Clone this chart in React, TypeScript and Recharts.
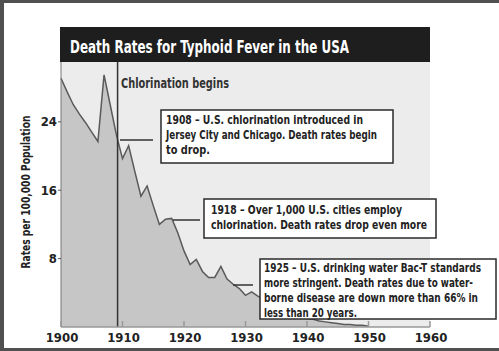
import React from 'react';
import { AreaChart, Area, XAxis, YAxis, CartesianGrid, ReferenceLine } from 'recharts';

const years = [
  1900, 1901, 1902, 1903, 1904, 1905, 1906, 1907, 1908, 1909,
  1910, 1911, 1912, 1913, 1914, 1915, 1916, 1917, 1918, 1919,
  1920, 1921, 1922, 1923, 1924, 1925, 1926, 1927, 1928, 1929,
  1930, 1931, 1932, 1933, 1934, 1935, 1936, 1937, 1938, 1939,
  1940, 1941, 1942, 1943, 1944, 1945, 1946, 1947, 1948, 1949, 1950,
];
const rates = [
  29.1, 27.5, 26.0, 24.9, 23.9, 22.8, 21.7, 29.5, 26.0, 22.5,
  19.7, 21.2, 18.2, 15.3, 16.5, 14.2, 12.0, 12.6, 12.7, 11.0,
  8.9, 7.3, 7.9, 6.5, 5.8, 5.8, 7.1, 5.6, 5.0, 4.5,
  3.7, 4.1, 3.6, 3.2, 3.0, 2.6, 2.2, 1.9, 1.5, 1.2,
  1.0, 0.9, 0.7, 0.6, 0.5, 0.4, 0.3, 0.3, 0.2, 0.2, 0.1,
];
const xTicks = [1900, 1910, 1920, 1930, 1940, 1950, 1960];
const yTicks = [8, 16, 24];
const chlorinationYear = 1909.2;

const data = years.map((year, i) => ({ year, rate: rates[i] }));

const FONT = "'Liberation Sans Narrow', 'Arial Narrow', 'DejaVu Sans Condensed', sans-serif";
const SQUEEZE = 0.8; // horizontal squeeze for the condensed note text

// x tick: small mark pointing up into the plot, label below
function YearTick(props: any) {
  const { x, y, payload } = props;
  return (
    <g>
      <line x1={x} y1={y} x2={x} y2={y - 6} stroke="#999" strokeWidth={1.5} />
      <text x={x + 1} y={y + 15} textAnchor="middle" fontFamily={FONT} fontWeight={700} fontSize={13} fill="#222">
        {payload.value}
      </text>
    </g>
  );
}

type Line = { text: string; w: number };

function NoteBox({ x, y, w, h, lines, tx, ty }: { x: number; y: number; w: number; h: number; lines: Line[]; tx: number; ty: number }) {
  return (
    <g>
      <rect x={x} y={y} width={w} height={h} fill="#fff" stroke="#2a2a2a" strokeWidth={1.5} />
      {lines.map((l, i) => (
        <text key={i} transform={`translate(${tx},${ty + i * 15}) scale(${SQUEEZE},1)`}
          fontFamily={FONT} fontWeight={700} fontSize={12} fill="#222"
          textLength={l.w / SQUEEZE} lengthAdjust="spacingAndGlyphs">
          {l.text}
        </text>
      ))}
    </g>
  );
}

export default function App() {
  return (
    <div style={{ position: 'fixed', left: 0, top: 0, width: 499, height: 351, background: '#fff', overflow: 'hidden' }}>
      <AreaChart width={499} height={351} data={data} margin={{ top: 62, right: 69, bottom: 0, left: 0 }}>
        <CartesianGrid fill="#ececec" stroke="none" />
        <XAxis
          dataKey="year"
          type="number"
          domain={[1900, 1960]}
          ticks={xTicks}
          height={24}
          tickSize={0}
          tickMargin={0}
          axisLine={{ stroke: '#999', strokeWidth: 1.5 }}
          tick={<YearTick />}
        />
        <YAxis
          domain={[0, 31]}
          ticks={yTicks}
          width={61}
          tickSize={3}
          tickMargin={1}
          axisLine={{ stroke: '#777' }}
          tickLine={{ stroke: '#555' }}
          tick={{ fontFamily: FONT, fontWeight: 700, fontSize: 13, fill: '#222' }}
        />
        <Area
          type="linear"
          dataKey="rate"
          stroke="#5a5a5a"
          strokeWidth={1.5}
          fill="#c6c6c6"
          fillOpacity={1}
          isAnimationActive={false}
        />
        <ReferenceLine x={chlorinationYear} stroke="#333" strokeWidth={1.5} />
      </AreaChart>

      <svg width={499} height={351} style={{ position: 'absolute', left: 0, top: 0, pointerEvents: 'none' }}>
        <rect x={60} y={27} width={370} height={35} fill="#1e1e1e" />
        <text x={70} y={53} fontFamily={FONT} fontWeight={700} fontSize={18} fill="#fff"
          textLength={279} lengthAdjust="spacingAndGlyphs">
          Death Rates for Typhoid Fever in the USA
        </text>
        <text x={121} y={88} fontFamily={FONT} fontWeight={700} fontSize={13.5} fill="#333"
          textLength={108} lengthAdjust="spacingAndGlyphs">
          Chlorination begins
        </text>
        <text transform="translate(30,192) rotate(-90)" textAnchor="middle" fontFamily={FONT} fontWeight={700}
          fontSize={11.5} fill="#222" textLength={153} lengthAdjust="spacingAndGlyphs">
          Rates per 100,000 Population
        </text>

        <line x1={120} y1={140} x2={153} y2={140} stroke="#333" strokeWidth={1.5} />
        <NoteBox x={161} y={110} w={232} h={53} tx={166} ty={124}
          lines={[
            { text: '1908 – U.S. chlorination introduced in', w: 197 },
            { text: 'Jersey City and Chicago. Death rates begin', w: 211 },
            { text: 'to drop.', w: 44 },
          ]} />

        <line x1={173} y1={220} x2={200} y2={220} stroke="#333" strokeWidth={1.5} />
        <NoteBox x={204} y={199} w={232} h={39} tx={211} ty={214}
          lines={[
            { text: '1918 – Over 1,000 U.S. cities employ', w: 191 },
            { text: 'chlorination. Death rates drop even more', w: 216 },
          ]} />

        <line x1={233} y1={285} x2={253} y2={285} stroke="#333" strokeWidth={1.5} />
        <NoteBox x={260} y={259} w={236} h={60} tx={264} ty={272}
          lines={[
            { text: '1925 – U.S. drinking water Bac-T standards', w: 217 },
            { text: 'more stringent. Death rates due to water-', w: 209 },
            { text: 'borne disease are down more than 66% in', w: 214 },
            { text: 'less than 20 years.', w: 93 },
          ]} />
      </svg>

      <div style={{ position: 'absolute', left: 0, top: 0, width: 499, height: 3, background: '#505050' }} />
      <div style={{ position: 'absolute', left: 0, top: 0, width: 4, height: 351, background: '#505050' }} />
      <div style={{ position: 'absolute', left: 0, bottom: 0, width: 499, height: 3, background: '#505050' }} />
    </div>
  );
}
